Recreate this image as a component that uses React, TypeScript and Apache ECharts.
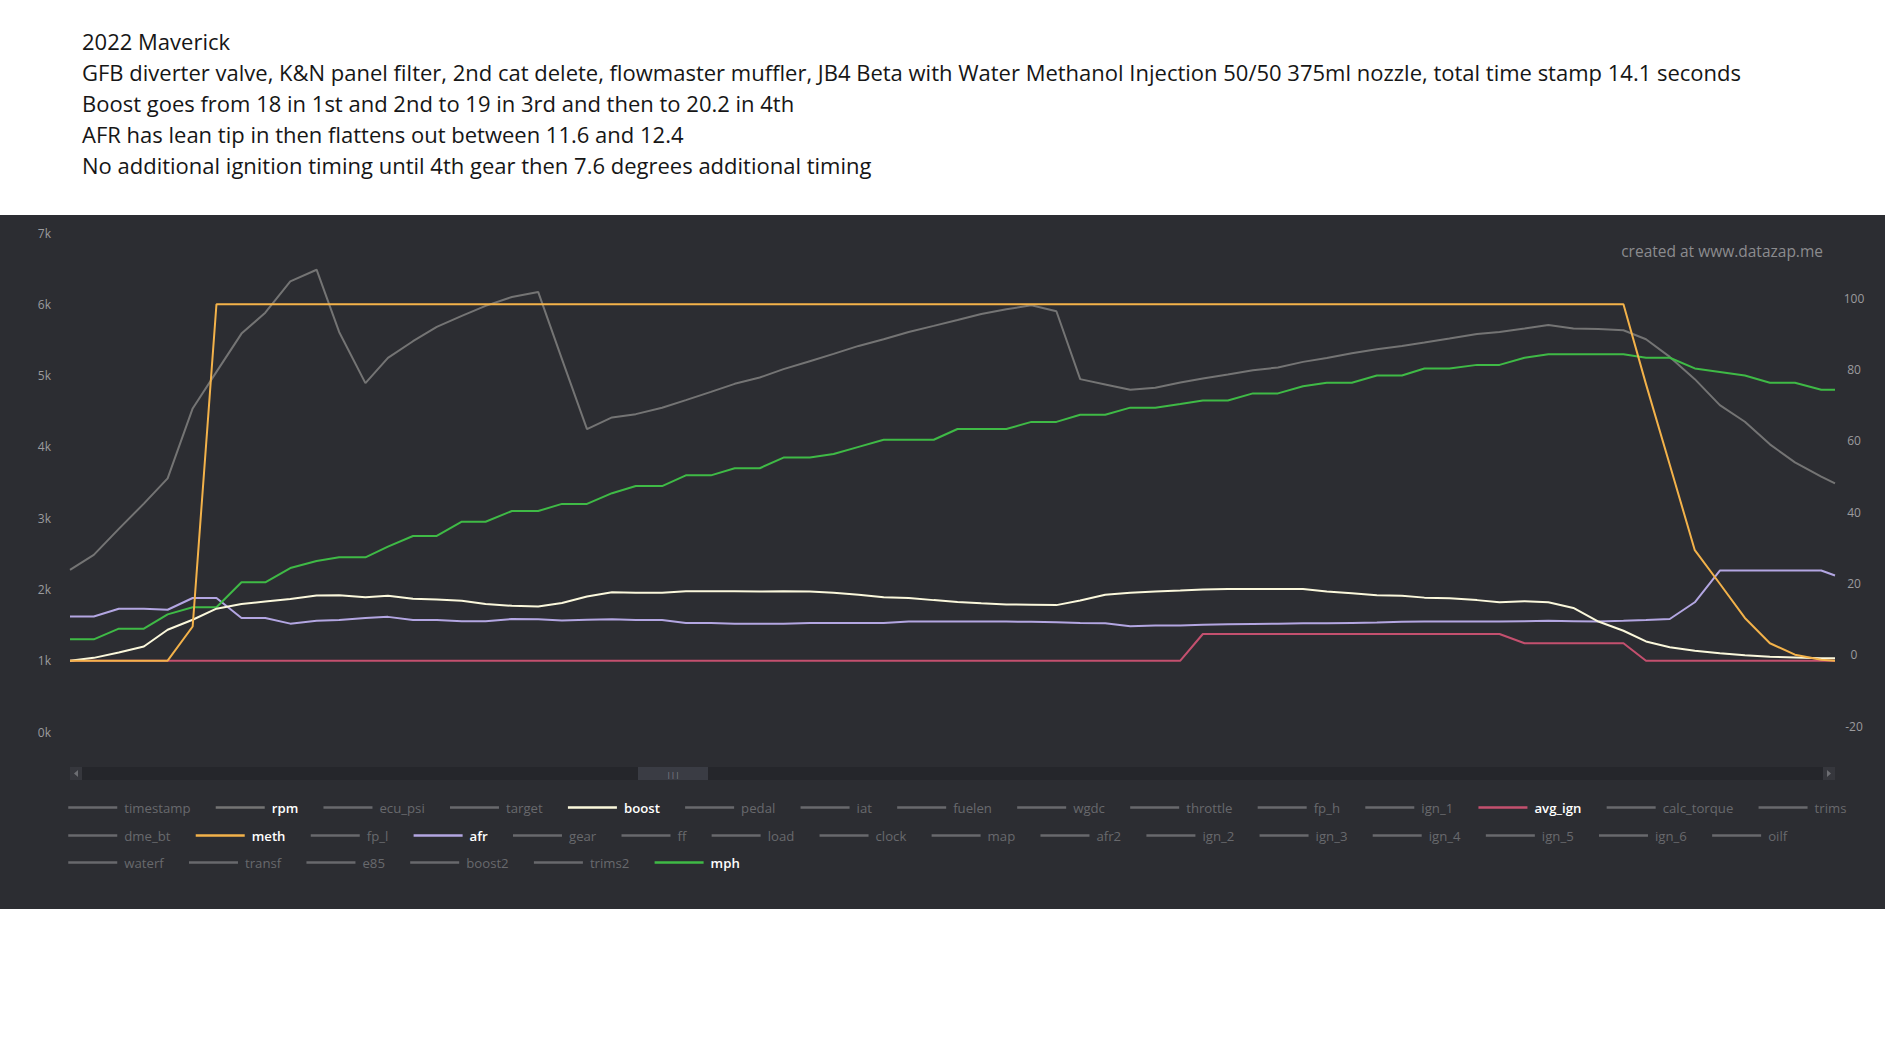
import React, { useEffect, useRef } from 'react';
import * as echarts from 'echarts';

const TITLE_LINES = [
  '2022 Maverick',
  'GFB diverter valve, K&N panel filter, 2nd cat delete, flowmaster muffler, JB4 Beta with Water Methanol Injection 50/50 375ml nozzle, total time stamp 14.1 seconds',
  'Boost goes from 18 in 1st and 2nd to 19 in 3rd and then to 20.2 in 4th',
  'AFR has lean tip in then flattens out between 11.6 and 12.4',
  'No additional ignition timing until 4th gear then 7.6 degrees additional timing',
];

const WATERMARK = 'created at www.datazap.me';

// seconds
const TIME = [
  0.0, 0.19, 0.39, 0.59, 0.78, 0.98, 1.17, 1.37, 1.56, 1.76,
  1.97, 2.15, 2.36, 2.54, 2.74, 2.93, 3.13, 3.32, 3.53, 3.74,
  3.93, 4.13, 4.33, 4.52, 4.73, 4.92, 5.12, 5.31, 5.51, 5.7,
  5.91, 6.1, 6.3, 6.5, 6.7, 6.9, 7.09, 7.28, 7.48, 7.68,
  7.88, 8.07, 8.27, 8.47, 8.67, 8.87, 9.05, 9.25, 9.45, 9.65,
  9.85, 10.04, 10.24, 10.44, 10.64, 10.82, 11.02, 11.24, 11.42, 11.62,
  11.81, 12.01, 12.21, 12.41, 12.59, 12.78, 12.98, 13.18, 13.38, 13.58,
  13.78, 13.99, 14.1,
];

const RPM = [
  2275, 2485, 2849, 3204, 3558, 4539, 5052, 5589, 5883, 6322,
  6485, 5612, 4894, 5248, 5482, 5683, 5837, 5977, 6103, 6173,
  5230, 4249, 4413, 4459, 4548, 4655, 4772, 4884, 4973, 5090,
  5202, 5304, 5416, 5510, 5612, 5697, 5780, 5865, 5930, 5986,
  5902, 4950, 4875, 4800, 4828, 4903, 4959, 5015, 5076, 5113,
  5192, 5248, 5314, 5370, 5416, 5463, 5519, 5584, 5612, 5659,
  5711, 5659, 5654, 5636, 5510, 5262, 4950, 4585, 4352, 4035,
  3782, 3582, 3488,
];

const BOOST = [
  0, 0.8, 2.3, 4.0, 8.7, 11.5, 14.6, 15.9, 16.6, 17.3,
  18.3, 18.4, 17.8, 18.2, 17.4, 17.2, 16.8, 15.9, 15.4, 15.2,
  16.2, 18.0, 19.2, 19.1, 19.1, 19.5, 19.5, 19.5, 19.4, 19.5,
  19.4, 19.1, 18.5, 17.8, 17.6, 17.0, 16.5, 16.1, 15.8, 15.7,
  15.6, 16.9, 18.5, 19.1, 19.4, 19.7, 20.0, 20.1, 20.1, 20.1,
  20.1, 19.4, 18.9, 18.4, 18.2, 17.7, 17.5, 17.0, 16.4, 16.7,
  16.4, 14.8, 11.0, 8.4, 5.4, 3.8, 2.8, 2.1, 1.5, 1.1,
  0.9, 0.7, 0.7,
];

const METH = [
  0, 0, 0, 0, 0, 9.6,
  100, 100, 100, 100, 100, 100, 100, 100, 100, 100,
  100, 100, 100, 100, 100, 100, 100, 100, 100, 100,
  100, 100, 100, 100, 100, 100, 100, 100, 100, 100,
  100, 100, 100, 100, 100, 100, 100, 100, 100, 100,
  100, 100, 100, 100, 100, 100, 100, 100, 100, 100,
  100, 100, 100, 100, 100, 100, 100, 100,
  77.6, 55, 31, 21.6, 12, 4.9, 1.7, 0.3, 0,
];

const AFR = [
  12.4, 12.4, 14.6, 14.6, 14.3, 17.6, 17.6, 12.0, 12.0, 10.4,
  11.2, 11.4, 12.0, 12.3, 11.4, 11.4, 11.1, 11.1, 11.7, 11.6,
  11.3, 11.5, 11.6, 11.4, 11.4, 10.6, 10.6, 10.4, 10.4, 10.4,
  10.6, 10.6, 10.6, 10.6, 11.0, 11.0, 11.0, 11.0, 11.0, 10.9,
  10.8, 10.6, 10.5, 9.7, 9.9, 9.9, 10.1, 10.2, 10.3, 10.4,
  10.5, 10.5, 10.6, 10.7, 10.9, 11.0, 11.0, 11.0, 11.0, 11.1,
  11.2, 11.1, 11.0, 11.2, 11.4, 11.7, 16.4, 25.3, 25.3, 25.3,
  25.3, 25.3, 23.9,
];

const AVG_IGN = [
  0, 0, 0, 0, 0, 0, 0, 0, 0, 0,
  0, 0, 0, 0, 0, 0, 0, 0, 0, 0,
  0, 0, 0, 0, 0, 0, 0, 0, 0, 0,
  0, 0, 0, 0, 0, 0, 0, 0, 0, 0,
  0, 0, 0, 0, 0, 0, 7.5, 7.5, 7.5, 7.5,
  7.5, 7.5, 7.5, 7.5, 7.5, 7.5, 7.5, 7.5, 7.5, 4.9,
  4.9, 4.9, 4.9, 4.9, 0, 0, 0, 0, 0, 0,
  0, 0, 0,
];

const MPH = [
  6, 6, 9, 9, 13, 15, 15, 22, 22, 26,
  28, 29, 29, 32, 35, 35, 39, 39, 42, 42,
  44, 44, 47, 49, 49, 52, 52, 54, 54, 57,
  57, 58, 60, 62, 62, 62, 65, 65, 65, 67,
  67, 69, 69, 71, 71, 72, 73, 73, 75, 75,
  77, 78, 78, 80, 80, 82, 82, 83, 83, 85,
  86, 86, 86, 86, 85, 85, 82, 81, 80, 78,
  78, 76, 76,
];

const LEGEND_ROW_1 = ['timestamp', 'rpm', 'ecu_psi', 'target', 'boost', 'pedal', 'iat', 'fuelen', 'wgdc', 'throttle', 'fp_h', 'ign_1', 'avg_ign', 'calc_torque', 'trims'];
const LEGEND_ROW_2 = ['dme_bt', 'meth', 'fp_l', 'afr', 'gear', 'ff', 'load', 'clock', 'map', 'afr2', 'ign_2', 'ign_3', 'ign_4', 'ign_5', 'ign_6', 'oilf'];
const LEGEND_ROW_3 = ['waterf', 'transf', 'e85', 'boost2', 'trims2', 'mph'];

const LEFT_MIN = 0;
const LEFT_MAX = 7000;
const LEFT_STEP = 1000;
const RIGHT_MIN = -20;
const RIGHT_MAX = 120;
const RIGHT_STEP = 20;

const SHOWN: Record<string, { data: number[]; axis: number; color: string; z: number }> = {
  rpm: { data: RPM, axis: 0, color: '#747474', z: 1 },
  avg_ign: { data: AVG_IGN, axis: 1, color: '#c4506f', z: 2 },
  afr: { data: AFR, axis: 1, color: '#b3a6e2', z: 3 },
  mph: { data: MPH, axis: 1, color: '#3fba46', z: 4 },
  boost: { data: BOOST, axis: 1, color: '#fbf8dc', z: 5 },
  meth: { data: METH, axis: 1, color: '#f3b24a', z: 6 },
};

const FONT = '"Open Sans", "Noto Sans", sans-serif';
const INACTIVE = '#68696d';

function legendRow(names: string[], top: number) {
  const selected: Record<string, boolean> = {};
  names.forEach((n) => {
    selected[n] = !!SHOWN[n];
  });
  return {
    type: 'plain',
    orient: 'horizontal',
    left: 67,
    top,
    right: 0,
    padding: 0,
    itemGap: 24,
    itemWidth: 49,
    itemHeight: 14,
    inactiveColor: INACTIVE,
    inactiveBorderColor: INACTIVE,
    itemStyle: { opacity: 0, borderWidth: 0 },
    lineStyle: { width: 2.5, inactiveColor: INACTIVE, inactiveWidth: 2.5 },
    selected,
    textStyle: { color: '#f2f2f2', fontSize: 13.2, fontFamily: FONT, padding: [0, 0, 0, 2] },
    data: names.map((n) =>
      SHOWN[n] ? { name: n, textStyle: { fontWeight: 600, color: '#ffffff' } } : { name: n }
    ),
  };
}

export default function App() {
  const ref = useRef<HTMLDivElement>(null);

  useEffect(() => {
    if (!ref.current) return;
    const chart = echarts.init(ref.current, undefined, { renderer: 'svg' });

    const allNames = [...LEGEND_ROW_1, ...LEGEND_ROW_2, ...LEGEND_ROW_3];
    const series = allNames.map((name) => {
      const s = SHOWN[name];
      return {
        name,
        type: 'line',
        yAxisIndex: s ? s.axis : 0,
        symbol: 'none',
        showSymbol: false,
        z: s ? 2 + s.z * 0.01 : 2,
        color: s ? s.color : '#747474',
        lineStyle: { width: 2, color: s ? s.color : '#747474' },
        data: s ? TIME.map((t, i) => [t, s.data[i]]) : [],
      };
    });

    chart.setOption({
      animation: false,
      backgroundColor: '#ffffff',
      title: {
        text: TITLE_LINES.join('\n'),
        left: 82,
        top: 25,
        padding: 0,
        textStyle: {
          fontFamily: FONT,
          fontSize: 22,
          fontWeight: 'normal',
          lineHeight: 31,
          color: '#161616',
        },
      },
      graphic: [
        {
          type: 'rect',
          z: -10,
          silent: true,
          shape: { x: 0, y: 215, width: 1885, height: 694 },
          style: { fill: '#2c2d32' },
        },
        {
          type: 'text',
          x: 1823,
          y: 251,
          silent: true,
          style: {
            text: WATERMARK,
            fill: '#8b8b8e',
            font: '15.5px ' + FONT,
            align: 'right',
            verticalAlign: 'middle',
          },
        },
        {
          type: 'rect',
          silent: true,
          shape: { x: 70, y: 767, width: 1765, height: 13 },
          style: { fill: '#25262b' },
        },
        {
          type: 'rect',
          silent: true,
          shape: { x: 70, y: 767, width: 12, height: 13 },
          style: { fill: '#36373d' },
        },
        {
          type: 'polygon',
          silent: true,
          shape: { points: [[78, 770], [78, 777], [74, 773.5]] },
          style: { fill: '#6d6e73' },
        },
        {
          type: 'rect',
          silent: true,
          shape: { x: 1823, y: 767, width: 12, height: 13 },
          style: { fill: '#36373d' },
        },
        {
          type: 'polygon',
          silent: true,
          shape: { points: [[1827, 770], [1827, 777], [1831, 773.5]] },
          style: { fill: '#6d6e73' },
        },
        {
          type: 'rect',
          silent: true,
          shape: { x: 638, y: 767, width: 70, height: 13 },
          style: { fill: '#3a3c44' },
        },
        {
          type: 'text',
          x: 673,
          y: 773.5,
          silent: true,
          style: {
            text: '|||',
            fill: '#8a8b90',
            font: '8px ' + FONT,
            align: 'center',
            verticalAlign: 'middle',
          },
        },
      ],
      grid: { left: 70, right: 50, top: 233, bottom: 306, containLabel: false },
      legend: [legendRow(LEGEND_ROW_1, 801), legendRow(LEGEND_ROW_2, 829), legendRow(LEGEND_ROW_3, 856)],
      xAxis: {
        type: 'value',
        min: 0,
        max: 14.1,
        show: false,
      },
      yAxis: [
        {
          type: 'value',
          position: 'left',
          min: LEFT_MIN,
          max: LEFT_MAX,
          interval: LEFT_STEP,
          axisLine: { show: false },
          axisTick: { show: false },
          splitLine: { show: false },
          axisLabel: {
            margin: 19,
            color: '#9b9b9e',
            fontSize: 12,
            fontFamily: FONT,
            formatter: (v: number) => `${v / 1000}k`,
          },
        },
        {
          type: 'value',
          position: 'right',
          min: RIGHT_MIN,
          max: RIGHT_MAX,
          interval: RIGHT_STEP,
          axisLine: { show: false },
          axisTick: { show: false },
          splitLine: { show: false },
          axisLabel: {
            margin: 19,
            color: '#9b9b9e',
            fontSize: 12,
            fontFamily: FONT,
            align: 'center',
            verticalAlign: 'bottom',
            showMaxLabel: false,
          },
        },
      ],
      series,
    });

    return () => chart.dispose();
  }, []);

  return (
    <div
      ref={ref}
      style={{ position: 'absolute', left: 0, top: 0, width: 1885, height: 1038 }}
    />
  );
}
